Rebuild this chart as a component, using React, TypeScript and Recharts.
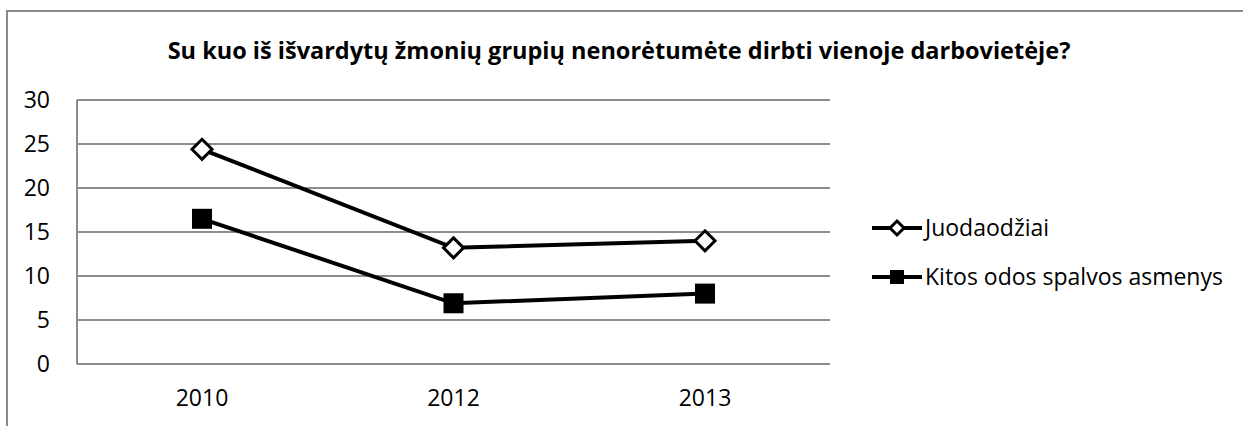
import React from 'react';
import { LineChart, Line, XAxis, YAxis, CartesianGrid, Legend } from 'recharts';

const categories = ['2010', '2012', '2013'];
const juodaodziai = [24.4, 13.2, 14.0];
const kitos = [16.5, 6.9, 8.0];
const yTicks = [0, 5, 10, 15, 20, 25, 30];
const seriesNames = ['Juodaodžiai', 'Kitos odos spalvos asmenys'];
const title = 'Su kuo iš išvardytų žmonių grupių nenorėtumėte dirbti vienoje darbovietėje?';

const data = categories.map((c, i) => ({ year: c, a: juodaodziai[i], b: kitos[i] }));

const FONT = '"Open Sans", "Liberation Sans", sans-serif';
const FS = 23;

const Diamond = (props: any) => {
  const { cx, cy, r = 9 } = props;
  if (cx == null || cy == null) return null;
  return (
    <polygon
      points={`${cx},${cy - r} ${cx + r},${cy} ${cx},${cy + r} ${cx - r},${cy}`}
      fill="#fff"
      stroke="#000"
      strokeWidth={3}
    />
  );
};

const Square = (props: any) => {
  const { cx, cy, s = 20 } = props;
  if (cx == null || cy == null) return null;
  return <rect x={cx - s / 2} y={cy - s / 2} width={s} height={s} fill="#000" />;
};

const LegendContent = (props: any) => {
  const { payload } = props;
  return (
    <div style={{ fontFamily: FONT, fontSize: FS, color: '#000', lineHeight: 1 }}>
      {(payload || []).map((entry: any, i: number) => (
        <div key={i} style={{ display: 'flex', alignItems: 'center', height: 49 }}>
          <svg width={50} height={20} style={{ marginRight: 3 }}>
            <line x1={0} y1={10} x2={50} y2={10} stroke="#000" strokeWidth={4} />
            {entry.dataKey === 'a' ? (
              <Diamond cx={25} cy={10} r={7} />
            ) : (
              <Square cx={25} cy={10} s={14} />
            )}
          </svg>
          <span>{entry.value}</span>
        </div>
      ))}
    </div>
  );
};

export default function App() {
  return (
    <div
      style={{
        position: 'absolute',
        left: 0,
        top: 0,
        width: 1243,
        height: 426,
        overflow: 'hidden',
        background: '#fff',
      }}
    >
      <div
        style={{
          position: 'absolute',
          left: 6,
          top: 10,
          width: 2000,
          height: 2000,
          border: '2px solid #8a8a8a',
        }}
      />
      <div
        style={{
          position: 'absolute',
          left: 0,
          top: 39,
          width: 1238,
          textAlign: 'center',
          fontFamily: FONT,
          fontWeight: 'bold',
          fontSize: 23.5,
          lineHeight: 1,
          color: '#000',
        }}
      >
        {title}
      </div>
      <div style={{ position: 'absolute', left: 0, top: 0 }}>
        <LineChart
          width={1243}
          height={426}
          data={data}
          margin={{ top: 100, right: 413, bottom: 32, left: 0 }}
        >
          <CartesianGrid vertical={false} stroke="#8c8c8c" strokeWidth={2} />
          <XAxis
            dataKey="year"
            axisLine={{ stroke: '#8c8c8c', strokeWidth: 2 }}
            tickLine={false}
            tickSize={0}
            tickMargin={26}
            height={30}
            padding={{ left: 125, right: 125 }}
            tick={{ fill: '#000', fontSize: FS, fontFamily: FONT }}
          />
          <YAxis
            domain={[0, 30]}
            ticks={yTicks}
            width={77}
            axisLine={{ stroke: '#8c8c8c', strokeWidth: 2 }}
            tickLine={false}
            tickSize={0}
            tickMargin={27}
            tick={{ fill: '#000', fontSize: FS, fontFamily: FONT }}
          />
          <Legend
            layout="horizontal"
            align="center"
            verticalAlign="middle"
            wrapperStyle={{ left: 872, top: 203, width: 370 }}
            content={<LegendContent />}
          />
          <Line
            dataKey="a"
            name={seriesNames[0]}
            stroke="#000"
            strokeWidth={4}
            dot={<Diamond r={10} />}
            isAnimationActive={false}
          />
          <Line
            dataKey="b"
            name={seriesNames[1]}
            stroke="#000"
            strokeWidth={4}
            dot={<Square s={20} />}
            isAnimationActive={false}
          />
        </LineChart>
      </div>
    </div>
  );
}
